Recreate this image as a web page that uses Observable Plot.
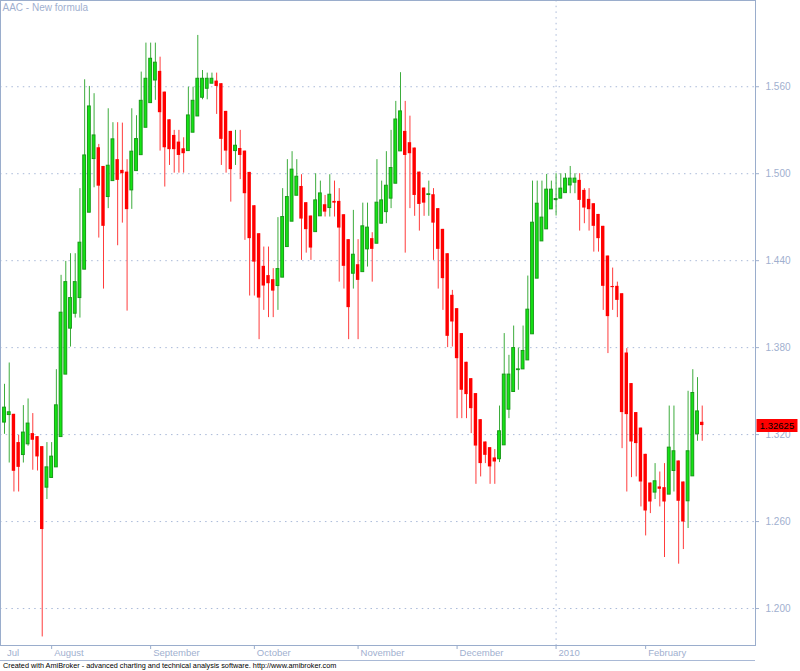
<!DOCTYPE html>
<html><head><meta charset="utf-8">
<script src="https://cdn.jsdelivr.net/npm/d3@7"></script>
<script src="https://cdn.jsdelivr.net/npm/@observablehq/plot@0.6"></script>
<style>
html,body{margin:0;padding:0;background:#fff;}
#chart{width:800px;height:661px;}
#footer{font:7.3px "Liberation Sans",Arial,sans-serif;color:#000;height:10px;line-height:10px;padding-left:3px;border-top:1px solid #a9b9d6;width:752px;box-sizing:content-box;margin-top:-1px;}
</style></head><body>
<div id="chart"></div>
<div id="footer">Created with AmiBroker - advanced charting and technical analysis software. http://www.amibroker.com</div>
<script>
const title = "AAC - New formula";
const opens = [1.3283,1.3335,1.334,1.3145,1.3059,1.3133,1.3207,1.3186,1.3117,1.2834,
1.2901,1.2974,1.3183,1.3614,1.3931,1.4034,1.4142,1.4338,1.4731,1.5101,
1.5179,1.505,1.4839,1.4949,1.5097,1.5023,1.5011,1.4885,1.5018,1.5128,
1.5317,1.5487,1.5643,1.5706,1.5563,1.5372,1.5264,1.5218,1.5172,1.5156,
1.5283,1.5395,1.5524,1.5586,1.5621,1.5639,1.5621,1.543,1.5292,1.5156,
1.5174,1.5156,1.5009,1.4779,1.4586,1.4361,1.4297,1.4269,1.4225,1.4283,
1.4494,1.4669,1.4848,1.4912,1.48,1.4708,1.4597,1.4706,1.4786,1.4763,
1.4809,1.4809,1.4717,1.4545,1.431,1.4372,1.4321,1.4478,1.4552,1.4517,
1.4655,1.4735,1.4828,1.4931,1.5154,1.5292,1.5214,1.5177,1.5011,1.4901,
1.4853,1.4855,1.4759,1.4616,1.4448,1.4161,1.4069,1.3897,1.3699,1.3586,
1.3483,1.3303,1.3149,1.311,1.3039,1.303,1.3126,1.3372,1.3494,1.3645,
1.365,1.3712,1.3892,1.4276,1.4533,1.4616,1.4754,1.4818,1.4828,1.4866,
1.4919,1.4938,1.4954,1.4885,1.4823,1.4793,1.4719,1.4637,1.4432,1.4222,
1.4223,1.4172,1.3763,1.3552,1.3352,1.3245,1.3064,1.2866,1.28,1.2839,
1.2834,1.2786,1.2949,1.3018,1.2873,1.274,1.2912,1.3202,1.3285];
const highs = [1.3547,1.3694,1.334,1.3195,1.34,1.3446,1.3345,1.3186,1.3117,1.3145,
1.3145,1.3648,1.4299,1.4395,1.4448,1.4448,1.4897,1.5648,1.5602,1.5552,
1.5202,1.505,1.5448,1.5352,1.5352,1.5349,1.5097,1.5448,1.54,1.5701,
1.5901,1.5901,1.5901,1.5804,1.5563,1.5372,1.5299,1.5299,1.5248,1.5597,
1.5597,1.5954,1.5712,1.5694,1.5694,1.5694,1.5621,1.543,1.5292,1.5299,
1.5299,1.5156,1.5009,1.4779,1.4586,1.4494,1.4494,1.4345,1.4697,1.4897,
1.5097,1.5152,1.5097,1.4993,1.48,1.4708,1.5,1.4949,1.485,1.4993,
1.4949,1.4897,1.4717,1.4545,1.4747,1.4545,1.4797,1.4797,1.4593,1.5097,
1.4949,1.5152,1.5299,1.5499,1.5697,1.5499,1.5397,1.5177,1.5011,1.4901,
1.4949,1.4897,1.4759,1.4616,1.4448,1.4195,1.4069,1.3897,1.3699,1.3586,
1.3483,1.3303,1.3149,1.311,1.3097,1.3397,1.3897,1.3747,1.3949,1.3797,
1.3949,1.4294,1.4949,1.4949,1.4949,1.4995,1.4949,1.5,1.5,1.5,
1.505,1.5,1.5,1.4897,1.4897,1.4793,1.4719,1.4637,1.4432,1.4349,
1.4252,1.4172,1.3793,1.3552,1.3352,1.3245,1.3064,1.2866,1.3,1.2942,
1.3,1.3397,1.3397,1.3018,1.2873,1.3499,1.3648,1.3593,1.3397];
const lows = [1.3202,1.3004,1.2804,1.2804,1.3004,1.312,1.2954,1.2949,1.1804,1.2752,
1.29,1.2974,1.3183,1.3614,1.3804,1.4004,1.4004,1.4338,1.4731,1.4903,
1.4556,1.4204,1.4759,1.4949,1.4503,1.4659,1.4052,1.4754,1.5018,1.5128,
1.5317,1.5487,1.5506,1.5156,1.4908,1.5057,1.5004,1.5004,1.5004,1.5156,
1.5283,1.5395,1.551,1.551,1.5621,1.5409,1.5057,1.5004,1.4804,1.5057,
1.4959,1.454,1.4156,1.4156,1.3855,1.4057,1.4007,1.4007,1.4057,1.4283,
1.4494,1.4669,1.4848,1.4402,1.4452,1.4402,1.4597,1.4706,1.4701,1.4701,
1.4701,1.4252,1.4204,1.3855,1.4204,1.3855,1.4321,1.4356,1.4252,1.4517,
1.4655,1.4655,1.4759,1.4931,1.5154,1.4452,1.4759,1.4706,1.4604,1.4706,
1.4706,1.4402,1.4204,1.4057,1.38,1.3804,1.331,1.331,1.331,1.3207,
1.2857,1.2908,1.3,1.2857,1.2857,1.3007,1.3126,1.331,1.3494,1.3506,
1.365,1.3712,1.3892,1.4276,1.4533,1.4616,1.4754,1.4708,1.4828,1.4866,
1.4862,1.4862,1.4604,1.4655,1.4604,1.4459,1.4459,1.4057,1.3759,1.4057,
1.4007,1.3103,1.2804,1.2903,1.2908,1.2701,1.2501,1.2655,1.2752,1.2701,
1.2352,1.2786,1.2804,1.2306,1.2407,1.2552,1.2912,1.3154,1.3154];
const closes = [1.3386,1.3354,1.2947,1.2974,1.3214,1.3276,1.3161,1.3046,1.2545,1.2974,
1.3048,1.3402,1.4041,1.4252,1.4142,1.4252,1.4524,1.5126,1.5464,1.5264,
1.4914,1.4637,1.5055,1.5237,1.4954,1.5,1.4752,1.5152,1.5239,1.5503,
1.5655,1.5793,1.5766,1.5421,1.5179,1.5166,1.5166,1.5126,1.5138,1.5402,
1.5503,1.5655,1.5655,1.5655,1.5655,1.5602,1.5237,1.5156,1.5028,1.5193,
1.5126,1.4862,1.4552,1.439,1.4142,1.4225,1.4241,1.419,1.4342,1.4701,
1.4839,1.5028,1.4979,1.4687,1.4614,1.4487,1.4816,1.4864,1.4735,1.4855,
1.4797,1.4625,1.4361,1.4076,1.4441,1.4264,1.4637,1.4628,1.4478,1.48,
1.4816,1.4917,1.5039,1.5374,1.543,1.5126,1.5138,1.485,1.4788,1.4797,
1.4858,1.4659,1.4478,1.4276,1.3878,1.3977,1.3724,1.3506,1.3476,1.3379,
1.3121,1.3,1.3057,1.2977,1.3011,1.3223,1.3614,1.3614,1.3797,1.365,
1.3777,1.4062,1.4662,1.4793,1.4697,1.489,1.489,1.4825,1.4897,1.4966,
1.4966,1.4966,1.4816,1.4763,1.4752,1.4637,1.4552,1.4223,1.4014,1.4214,
1.4126,1.3352,1.3338,1.3149,1.3138,1.2873,1.2673,1.2735,1.2878,1.2823,
1.2735,1.311,1.3085,1.274,1.2597,1.3085,1.3487,1.336,1.32625];
const yTicks = [1.2, 1.26, 1.32, 1.38, 1.44, 1.5, 1.56];
const monthTickIdx = [10, 31, 53, 75, 96, 117, 136];
const monthLabelIdx = [0, 10, 31, 53, 75, 96, 117, 136];
const monthLabels = ["Jul", "August", "September", "October", "November", "December", "2010", "February"];
const yearBreakIdx = [117];

const candles = opens.map((o, i) => ({i, open: o, high: highs[i], low: lows[i], close: closes[i], up: closes[i] >= o}));
const upC = candles.filter(d => d.up), dnC = candles.filter(d => !d.up);
const lastC = [candles[candles.length - 1]];
const labelOf = new Map(monthLabelIdx.map((d, k) => [d, monthLabels[k]]));

const axisColor = "#9fb0cf", gridColor = "#a9b9d8", frameColor = "#9aadcc";
const green = "#14e414", greenEdge = "#179a17", greenWick = "#3dac3d", red = "#ff0000", redWick = "#ff3c3c";
const boxSymbol = {draw(ctx) { ctx.rect(-20.5, -6.5, 41, 13); }};

const chart = Plot.plot({
  width: 800, height: 661,
  marginTop: 0, marginLeft: 0, marginRight: 45, marginBottom: 16,
  style: {fontFamily: '"Liberation Sans", Arial, sans-serif', background: "#fff", overflow: "visible"},
  x: {domain: [-0.85, 159.3], axis: null, label: null},
  y: {domain: [1.1745, 1.6195], axis: null, label: null},
  marks: [
    Plot.gridY(yTicks, {stroke: gridColor, strokeOpacity: 1, strokeDasharray: "1.5,4.2"}),
    Plot.ruleX(yearBreakIdx, {stroke: gridColor, strokeDasharray: "1.5,4.2"}),
    Plot.ruleX(upC, {x: "i", y1: "low", y2: "high", stroke: greenWick, strokeWidth: 1}),
    Plot.ruleX(dnC, {x: "i", y1: "low", y2: "high", stroke: redWick, strokeWidth: 1}),
    Plot.rect(dnC, {x1: d => d.i - 0.36, x2: d => d.i + 0.36, y1: "open", y2: "close", fill: red}),
    Plot.rect(upC, {x1: d => d.i - 0.3, x2: d => d.i + 0.3, y1: "open", y2: "close", fill: green, stroke: greenEdge, strokeWidth: 1}),
    Plot.frame({stroke: frameColor}),
    Plot.axisY(yTicks, {anchor: "right", label: null, tickFormat: d3.format(".3f"), tickSize: 3, tickPadding: 7, fontSize: 10, color: axisColor}),
    Plot.axisX(monthTickIdx, {anchor: "bottom", label: null, tickSize: 4, tickFormat: () => "", color: frameColor}),
    Plot.axisX(monthLabelIdx, {anchor: "bottom", label: null, tickSize: 0, tickPadding: 4, textAnchor: "start", dx: 2.5, tickFormat: d => labelOf.get(d), fontSize: 9.5, color: axisColor}),
    Plot.text([title], {frameAnchor: "top-left", dx: 2, dy: 3, lineAnchor: "top", fontSize: 10, fill: axisColor}),
    Plot.dot(lastC, {y: "close", frameAnchor: "right", dx: 21.5, symbol: boxSymbol, fill: red}),
    Plot.text(lastC, {y: "close", text: d => d.close.toFixed(5), frameAnchor: "right", textAnchor: "middle", dx: 21.5, fontSize: 9.5, fill: "#000"})
  ]
});
document.getElementById("chart").appendChild(chart);
</script>
</body></html>
